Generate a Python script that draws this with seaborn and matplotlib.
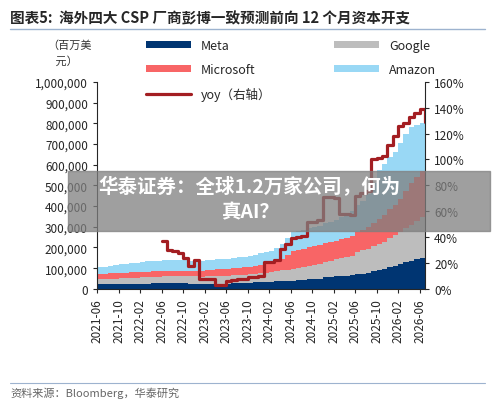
import numpy as np
import pandas as pd
import matplotlib
matplotlib.use("Agg")
import matplotlib.pyplot as plt
import seaborn as sns

months = pd.date_range("2021-06-01", "2026-07-01", freq="MS")
meta = [22,22,23,23,24,24,25,25,26,26,27,27, 28,28,28,28,27,26,25,24,24,24,25,25,
        26,27,28,29,30,31,32,33,34,36,37,38, 40,42,44,46,48,50,55,58,60,62,64,66,
        70,74,78,85,90,95,105,112,120,128,135,142, 150,160]
google = [26,26,27,27,28,28,29,29,30,30,31,31, 32,32,33,33,34,34,35,35,36,36,37,37,
          38,38,39,40,41,42,44,46,48,50,52,54, 57,60,63,66,69,72,76,79,82,86,90,95,
          107,112,117,122,128,133,140,146,155,165,175,185, 195,200]
microsoft = [25,25,25,26,26,26,27,27,27,27,27,27, 27,27,27,27,27,27,28,29,30,31,32,32,
             33,34,35,36,37,38,40,41,43,46,55,70, 88,88,88,88,88,88,89,89,90,92,94,95,
             97,100,105,112,120,130,140,145,160,180,200,215, 225,230]
amazon = [32,34,36,38,40,42,44,46,48,50,51,52, 52,52,52,51,50,49,48,48,48,48,48,48,
          48,49,50,51,52,53,56,58,60,65,75,85, 89,90,91,92,93,95,97,98,100,105,110,120,
          129,140,160,190,235,245,250,260,270,275,270,250, 230,200]
yoy = [np.nan]*12 + [37,30,29,28,24,18,22,8,8,8,3,3,
        6,7,8,8,9,9,10,21,21,22,31,35, 39,40,41,52,52,53,71,71,70,58,58,57,
        72,74,76,100,101,103,111,118,126,128,133,136, 139,129]
tick_labels = [d.strftime("%Y-%m") for d in pd.date_range("2021-06-01", "2026-06-01", freq="4MS")]

sns.set_style("white")
plt.rcParams['font.family'] = ['Noto Sans CJK SC', 'DejaVu Sans']

fig = plt.figure(figsize=(5.0, 4.06), dpi=100)
ax = fig.add_axes([0.194, 0.286, 0.656, 0.51])
x = np.arange(len(months))
scale = 1000
layers = [np.array(v)*scale for v in (meta, google, microsoft, amazon)]
cols = ["#003572", "#BDBDBD", "#F86566", "#99D8F5"]
names = ["Meta", "Google", "Microsoft", "Amazon"]
base = np.zeros(len(x))
handles = {}
for arr, c, n in zip(layers, cols, names):
    h = ax.fill_between(x, base, base+arr, color=c, lw=0, step="post", label=n)
    handles[n] = h
    base = base + arr
ax.set_xlim(0, len(x)-1)
ax.set_ylim(0, 1000000)
ax.set_yticks(np.arange(0, 1000001, 100000))
ax.set_yticklabels([f"{v:,}" for v in range(0, 1000001, 100000)], fontsize=8.5)
tick_pos = [months.get_loc(pd.Timestamp(t+"-01")) for t in tick_labels]
ax.set_xticks(tick_pos)
ax.set_xticklabels(tick_labels, rotation=90, fontsize=8.5)
ax.tick_params(axis='both', direction='out', length=3, width=0.8, left=True, bottom=True)
for s in ["top", "right"]:
    ax.spines[s].set_visible(False)

ax2 = ax.twinx()
df = pd.DataFrame({"x": x, "yoy": yoy})
sns.lineplot(data=df, x="x", y="yoy", ax=ax2, color="#A31E22", lw=2.3, drawstyle="steps-post", label="yoy（右轴）", legend=False)
ax2.set_ylim(0, 160)
ax2.set_yticks(range(0, 161, 20))
ax2.set_yticklabels([f"{v}%" for v in range(0, 161, 20)], fontsize=8.5)
ax2.set_ylabel("")
ax2.tick_params(axis='y', direction='out', length=3, width=0.8, right=True)
for s in ["top", "left"]:
    ax2.spines[s].set_visible(False)
ax2.spines["bottom"].set_visible(False)

line_h = ax2.get_lines()[0]
hs = [handles["Meta"], handles["Microsoft"], line_h, handles["Google"], handles["Amazon"]]
ls = ["Meta", "Microsoft", "yoy（右轴）", "Google", "Amazon"]
leg = fig.legend(hs, ls, ncol=2, loc="upper left", bbox_to_anchor=(0.27, 0.93), frameon=False,
                 fontsize=9, handlelength=3.6, handleheight=0.5, columnspacing=5.0, labelspacing=0.9)

fig.text(0.02, 0.975, "图表5:  海外四大 CSP 厂商彭博一致预测前向 12 个月资本开支", fontsize=10.5, fontweight="bold", va="top")
fig.add_artist(plt.Line2D([0.02, 0.97], [0.925, 0.925], color="#9DB3CF", lw=1))
fig.text(0.095, 0.9, "（百万美\n   元）", fontsize=8, va="top", color="#333333", linespacing=1.6)
fig.add_artist(plt.Line2D([0.02, 0.97], [0.055, 0.055], color="#9DB3CF", lw=0.8))
fig.text(0.02, 0.045, "资料来源：Bloomberg，华泰研究", fontsize=8, va="top", color="#666666")

fig.patches.append(plt.Rectangle((0.135, 0.428), 0.845, 0.148, transform=fig.transFigure,
                                 color="#7F7F7F", alpha=0.75, zorder=10))
fig.text(0.5, 0.54, "华泰证券：全球1.2万家公司，何为", ha="center", va="center", color="white",
         fontsize=14, fontweight="bold", zorder=11)
fig.text(0.5, 0.475, "真AI？", ha="center", va="center", color="white", fontsize=14, fontweight="bold", zorder=11)

fig.savefig("out.png", dpi=100)
